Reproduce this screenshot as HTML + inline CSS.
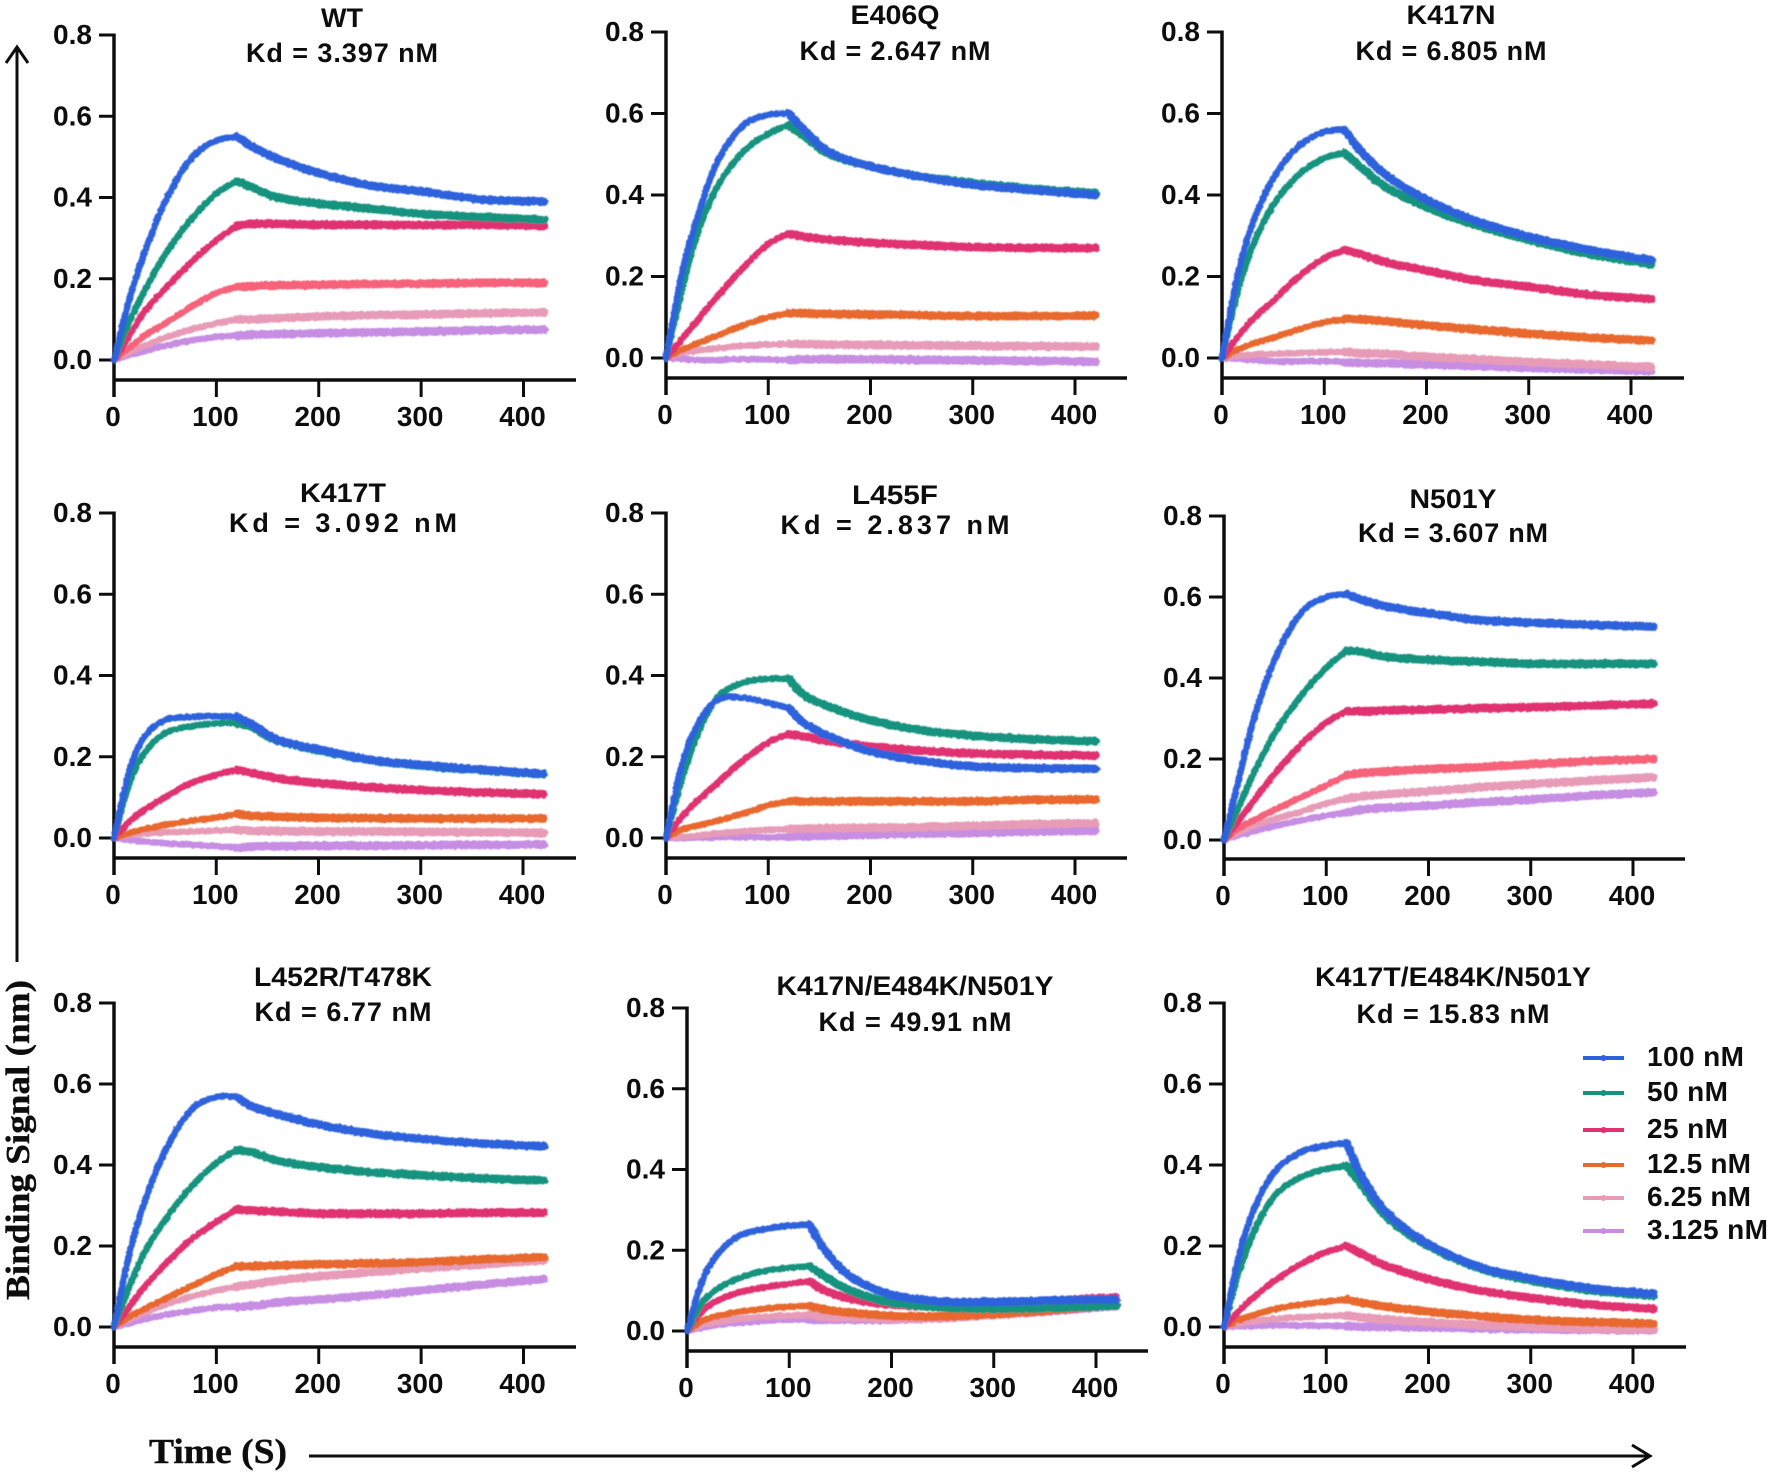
<!DOCTYPE html>
<html>
<head>
<meta charset="utf-8">
<title>Binding kinetics panels</title>
<style>
html,body{margin:0;padding:0;background:#fff;width:1772px;height:1476px;overflow:hidden}
svg{display:block}
.tick{font-family:"Liberation Sans",Arial,sans-serif;font-weight:700;font-size:28px;fill:#111}
.ttl{font-family:"Liberation Sans",Arial,sans-serif;font-weight:700;font-size:27px;fill:#111}
.leg{font-family:"Liberation Sans",Arial,sans-serif;font-weight:700;font-size:28px;fill:#111}
.serif{font-family:"Liberation Serif","Times New Roman",serif;font-weight:700;fill:#111;stroke:#111;stroke-width:.4}
</style>
</head>
<body>
<svg id="chart" xmlns="http://www.w3.org/2000/svg" width="1772" height="1476" viewBox="0 0 1772 1476">
  <defs>
    <filter id="rough" x="-5%" y="-5%" width="110%" height="110%" filterUnits="objectBoundingBox">
      <feTurbulence type="fractalNoise" baseFrequency="0.28" numOctaves="2" seed="4" result="n"/>
      <feDisplacementMap in="SourceGraphic" in2="n" scale="3" xChannelSelector="R" yChannelSelector="G"/>
      <feGaussianBlur stdDeviation="0.4"/>
    </filter>
    <filter id="soft"><feGaussianBlur stdDeviation="0.35"/></filter>
  </defs>
  <g id="panels" filter="url(#soft)"></g>
  <g id="decor" filter="url(#soft)">
    <line x1="17" y1="962" x2="17" y2="48" stroke="#111" stroke-width="3"/>
    <polyline points="6,63 17,47 28,63" fill="none" stroke="#111" stroke-width="3"/>
    <text class="serif" font-size="34" textLength="320" lengthAdjust="spacingAndGlyphs" transform="translate(29,1300) rotate(-90)">Binding Signal (nm)</text>
    <text class="serif" font-size="35" x="149" y="1463" textLength="138" lengthAdjust="spacingAndGlyphs">Time (S)</text>
    <line x1="309" y1="1456" x2="1650" y2="1456" stroke="#111" stroke-width="3"/>
    <polyline points="1632,1445 1650,1456 1632,1467" fill="none" stroke="#111" stroke-width="3"/>
  </g>
  <g id="legend" filter="url(#soft)"></g>
</svg>
<script>
// Shared axis values
const times = [0, 15, 30, 50, 75, 100, 120, 135, 160, 200, 250, 300, 360, 420];
const yTicks = [0, 0.2, 0.4, 0.6, 0.8];
const xTicks = [0, 100, 200, 300, 400];
const concentrations = ['100 nM', '50 nM', '25 nM', '12.5 nM', '6.25 nM', '3.125 nM'];

// Response values per panel; rows follow the concentrations order
const wtValues = [
  [0, .15, .265, .39, .495, .54, .55, .525, .495, .46, .43, .415, .395, .39],
  [0, .095, .17, .26, .345, .41, .44, .425, .40, .385, .373, .36, .352, .345],
  [0, .06, .12, .175, .24, .295, .33, .335, .335, .333, .333, .332, .333, .33],
  [0, .03, .06, .09, .13, .165, .18, .182, .184, .185, .187, .188, .19, .19],
  [0, .02, .035, .055, .075, .09, .10, .10, .103, .107, .11, .112, .115, .117],
  [0, .012, .022, .035, .048, .057, .06, .062, .064, .066, .068, .07, .073, .075]
];
const e406qValues = [
  [0, .20, .34, .48, .57, .597, .60, .56, .505, .47, .445, .425, .412, .40],
  [0, .16, .30, .42, .505, .55, .572, .545, .50, .47, .445, .43, .415, .405],
  [0, .045, .09, .15, .22, .28, .305, .298, .29, .283, .277, .272, .27, .27],
  [0, .02, .035, .055, .08, .10, .11, .11, .108, .107, .105, .103, .103, .104],
  [0, .012, .018, .024, .03, .033, .034, .034, .033, .032, .031, .03, .029, .028],
  [0, -.002, -.005, -.005, -.003, -.004, -.005, -.003, -.003, -.003, -.005, -.006, -.007, -.009]
];
const k417nValues = [
  [0, .20, .33, .44, .52, .555, .56, .51, .45, .388, .335, .298, .265, .24],
  [0, .16, .275, .375, .45, .49, .503, .47, .42, .37, .325, .29, .255, .23],
  [0, .05, .095, .14, .20, .245, .265, .255, .235, .215, .19, .175, .155, .145],
  [0, .02, .035, .05, .07, .088, .095, .095, .09, .08, .07, .06, .05, .043],
  [0, .005, .008, .01, .012, .014, .015, .012, .01, .003, -.003, -.01, -.016, -.022],
  [0, -.002, -.005, -.008, -.008, -.008, -.01, -.012, -.013, -.016, -.02, -.024, -.028, -.032]
];
const k417tValues = [
  [0, .165, .25, .29, .298, .30, .298, .28, .242, .218, .193, .18, .168, .158],
  [0, .135, .21, .258, .275, .282, .283, .272, .24, .216, .192, .178, .167, .157],
  [0, .04, .07, .10, .135, .155, .168, .16, .147, .135, .125, .118, .112, .108],
  [0, .012, .022, .032, .042, .05, .06, .055, .052, .05, .049, .048, .048, .048],
  [0, .007, .01, .014, .016, .018, .02, .018, .017, .016, .016, .015, .014, .013],
  [0, -.005, -.009, -.013, -.017, -.02, -.024, -.021, -.02, -.019, -.019, -.018, -.017, -.016]
];
const l455fValues = [
  [0, .175, .275, .34, .345, .332, .32, .283, .25, .213, .19, .176, .172, .17],
  [0, .14, .25, .345, .382, .392, .392, .352, .323, .29, .265, .252, .243, .238],
  [0, .05, .09, .135, .19, .235, .255, .25, .238, .225, .215, .208, .205, .203],
  [0, .02, .03, .042, .06, .08, .09, .09, .09, .09, .09, .09, .094, .095],
  [0, .003, .006, .011, .016, .02, .022, .023, .024, .025, .027, .03, .034, .037],
  [0, 0, .001, .002, .002, .002, .003, .004, .006, .008, .011, .013, .016, .018]
];
const n501yValues = [
  [0, .155, .305, .448, .56, .60, .607, .593, .576, .56, .543, .537, .531, .527],
  [0, .085, .17, .265, .355, .425, .468, .465, .452, .445, .44, .435, .435, .435],
  [0, .05, .10, .165, .235, .29, .318, .318, .32, .322, .325, .328, .332, .337],
  [0, .03, .05, .075, .105, .135, .16, .165, .17, .175, .18, .187, .195, .20],
  [0, .02, .036, .052, .07, .09, .102, .108, .113, .12, .13, .138, .147, .155],
  [0, .012, .022, .035, .048, .06, .068, .075, .08, .085, .093, .10, .11, .118]
];
const l452rValues = [
  [0, .18, .31, .435, .535, .568, .568, .545, .525, .50, .478, .465, .453, .447],
  [0, .10, .185, .265, .345, .405, .437, .432, .41, .395, .382, .375, .367, .362],
  [0, .05, .10, .155, .215, .26, .29, .288, .285, .28, .28, .28, .282, .282],
  [0, .025, .045, .07, .10, .13, .15, .15, .152, .155, .157, .16, .167, .172],
  [0, .018, .035, .055, .075, .09, .10, .105, .115, .125, .135, .145, .155, .165],
  [0, .01, .02, .03, .04, .048, .05, .052, .06, .068, .078, .09, .105, .118]
];
const tripleNValues = [
  [0, .125, .19, .235, .252, .261, .263, .20, .135, .09, .073, .072, .076, .078],
  [0, .07, .105, .13, .148, .157, .16, .135, .10, .07, .058, .055, .057, .063],
  [0, .05, .075, .095, .108, .117, .123, .10, .08, .065, .06, .062, .075, .083],
  [0, .025, .037, .047, .055, .06, .062, .053, .045, .038, .036, .042, .052, .065],
  [0, .015, .022, .03, .035, .038, .04, .035, .033, .03, .033, .04, .052, .065],
  [0, .008, .015, .02, .025, .028, .028, .028, .028, .028, .032, .04, .05, .062]
];
const tripleTValues = [
  [0, .18, .295, .385, .432, .448, .454, .37, .28, .205, .148, .12, .095, .082],
  [0, .14, .24, .325, .37, .39, .398, .35, .27, .20, .145, .115, .09, .077],
  [0, .04, .075, .115, .155, .185, .20, .18, .15, .118, .09, .072, .055, .045],
  [0, .018, .03, .045, .055, .063, .068, .06, .05, .038, .027, .018, .012, .008],
  [0, .008, .014, .02, .024, .027, .028, .024, .018, .012, .005, 0, -.004, -.006],
  [0, .002, .003, .004, .004, .003, .002, .001, 0, -.001, -.003, -.005, -.007, -.008]
];

// Styles and layout (not data)
const BLUE = '#2f62dc', TEAL = '#17937f', CRIMSON = '#e0306f', ORANGE = '#e8672f', SALMON = '#f5627a', PINK = '#e79bb6', PURPLE = '#c68de3';
const layout = [
  {id:'wt', values:wtValues, t1:'WT', t2:'Kd = 3.397 nM', x0:114, x400:523.5, xEnd:576, y8:35, y0:360, axisY:380, cx:342, ty1:18, ty2:53, w1:42, w2:192, c4:SALMON},
  {id:'e406q', values:e406qValues, t1:'E406Q', t2:'Kd = 2.647 nM', x0:666, x400:1075, xEnd:1127, y8:32, y0:358, axisY:378, cx:895, ty1:15, ty2:51, w1:89, w2:191, c4:ORANGE},
  {id:'k417n', values:k417nValues, t1:'K417N', t2:'Kd = 6.805 nM', x0:1222, x400:1631, xEnd:1684, y8:32, y0:358, axisY:378, cx:1451, ty1:15, ty2:51, w1:89, w2:191, c4:ORANGE},
  {id:'k417t', values:k417tValues, t1:'K417T', t2:'Kd = 3.092 nM', x0:114, x400:523, xEnd:576, y8:513, y0:838, axisY:858, cx:343, ty1:493, ty2:523, w1:86, w2:228, c4:ORANGE},
  {id:'l455f', values:l455fValues, t1:'L455F', t2:'Kd = 2.837 nM', x0:666, x400:1075, xEnd:1127, y8:513, y0:838, axisY:858, cx:895, ty1:495, ty2:525, w1:86, w2:229, c4:ORANGE},
  {id:'n501y', values:n501yValues, t1:'N501Y', t2:'Kd = 3.607 nM', x0:1224, x400:1633, xEnd:1685, y8:516, y0:840, axisY:859, cx:1453, ty1:499, ty2:533, w1:87, w2:190, c4:SALMON},
  {id:'l452r-t478k', values:l452rValues, t1:'L452R/T478K', t2:'Kd = 6.77 nM', x0:114, x400:523.5, xEnd:576, y8:1003, y0:1327, axisY:1347, cx:343, ty1:977, ty2:1012, w1:178, w2:177, c4:ORANGE},
  {id:'k417n-e484k-n501y', values:tripleNValues, t1:'K417N/E484K/N501Y', t2:'Kd = 49.91 nM', x0:687, x400:1096, xEnd:1148, y8:1008, y0:1331, axisY:1351, cx:915, ty1:986, ty2:1022, w1:277, w2:193, c4:ORANGE},
  {id:'k417t-e484k-n501y', values:tripleTValues, t1:'K417T/E484K/N501Y', t2:'Kd = 15.83 nM', x0:1224, x400:1633, xEnd:1686, y8:1003, y0:1327, axisY:1347, cx:1453, ty1:977, ty2:1014, w1:276, w2:193, c4:ORANGE}
];

const NS = 'http://www.w3.org/2000/svg';
function make(tag, attrs, parent, txt) {
  const el = document.createElementNS(NS, tag);
  for (const k in attrs) el.setAttribute(k, attrs[k]);
  if (txt !== undefined) el.textContent = txt;
  parent.appendChild(el);
  return el;
}
function smoothPath(pts) {
  let d = 'M' + pts[0][0].toFixed(1) + ' ' + pts[0][1].toFixed(1);
  for (let i = 0; i < pts.length - 1; i++) {
    const p0 = pts[Math.max(0, i - 1)], p1 = pts[i], p2 = pts[i + 1], p3 = pts[Math.min(pts.length - 1, i + 2)];
    const c1x = p1[0] + (p2[0] - p0[0]) / 6, c1y = p1[1] + (p2[1] - p0[1]) / 6;
    const c2x = p2[0] - (p3[0] - p1[0]) / 6, c2y = p2[1] - (p3[1] - p1[1]) / 6;
    d += 'C' + c1x.toFixed(1) + ' ' + c1y.toFixed(1) + ' ' + c2x.toFixed(1) + ' ' + c2y.toFixed(1) + ' ' + p2[0].toFixed(1) + ' ' + p2[1].toFixed(1);
  }
  return d;
}

const root = document.getElementById('panels');
const splitIndex = times.indexOf(120);
layout.forEach(function (p) {
  const xScale = function (t) { return p.x0 + (p.x400 - p.x0) * t / 400; };
  const yScale = function (v) { return p.y0 - (p.y0 - p.y8) * v / 0.8; };
  const g = make('g', {}, root);
  
  

  const title = make('text', {class:'ttl', x:p.cx, y:p.ty1 + 9, 'text-anchor':'middle', textLength:p.w1, lengthAdjust:'spacingAndGlyphs'}, g, p.t1);
  
  
  const kd = make('text', {class:'ttl', x:p.cx, y:p.ty2 + 9, 'text-anchor':'middle', textLength:p.w2, lengthAdjust:'spacing'}, g, p.t2);
  
  

  const yAxis = make('line', {x1:p.x0, x2:p.x0, y1:p.y8 - 1.5, y2:p.axisY + 17, stroke:'#111', 'stroke-width':3.5}, g);
  
  
  const xAxis = make('line', {x1:p.x0, x2:p.xEnd, y1:p.axisY, y2:p.axisY, stroke:'#111', 'stroke-width':3.5}, g);
  
  

  yTicks.forEach(function (v) {
    const tick = make('line', {x1:p.x0 - 15, x2:p.x0, y1:yScale(v), y2:yScale(v), stroke:'#111', 'stroke-width':3}, g);
    
    
    const label = make('text', {class:'tick', x:p.x0 - 22, y:yScale(v) + 9, 'text-anchor':'end', textLength:39, lengthAdjust:'spacingAndGlyphs'}, g, v.toFixed(1));
    
    
  });
  xTicks.forEach(function (t) {
    const tick = make('line', {x1:xScale(t), x2:xScale(t), y1:p.axisY, y2:p.axisY + 17, stroke:'#111', 'stroke-width':3}, g);
    
    
    const label = make('text', {class:'tick', x:xScale(t) - 1, y:p.axisY + 46, 'text-anchor':'middle', textLength:String(t).length * 15.5, lengthAdjust:'spacingAndGlyphs'}, g, String(t));
    
    
  });

  const colors = [BLUE, TEAL, CRIMSON, p.c4, PINK, PURPLE];
  const curves = make('g', {filter:'url(#rough)'}, g);
  
  
  for (let s = p.values.length - 1; s >= 0; s--) {
    const pts = p.values[s].map(function (v, i) { return [xScale(times[i]), yScale(v)]; });
    const seriesName = 'series-' + concentrations[s].replace(' ', '-').toLowerCase();
    const rise = make('path', {d:smoothPath(pts.slice(0, splitIndex + 1)), fill:'none', stroke:colors[s], 'stroke-width':6.5, 'stroke-linejoin':'round', 'stroke-linecap':'round'}, curves);
    
    
    const fall = make('path', {d:smoothPath(pts.slice(splitIndex)), fill:'none', stroke:colors[s], 'stroke-width':8.5, 'stroke-linejoin':'round', 'stroke-linecap':'round'}, curves);
    
    
  }
});

const legendColors = [BLUE, TEAL, CRIMSON, ORANGE, PINK, PURPLE];
const legendRowY = [1058, 1093, 1130, 1165, 1198, 1231];
const legendRoot = document.getElementById('legend');
concentrations.forEach(function (name, i) {
  const row = make('g', {}, legendRoot);
  
  
  const swatch = make('line', {x1:1583, x2:1624, y1:legendRowY[i], y2:legendRowY[i], stroke:legendColors[i], 'stroke-width':4}, row);
  
  
  const dot = make('circle', {cx:1603.5, cy:legendRowY[i], r:3, fill:legendColors[i]}, row);
  
  
  const label = make('text', {class:'leg', x:1647, y:legendRowY[i] + 8, textLength:[97, 81, 81, 104, 104, 121][i], lengthAdjust:'spacing'}, row, name);
  
  
});
</script>
</body>
</html>
